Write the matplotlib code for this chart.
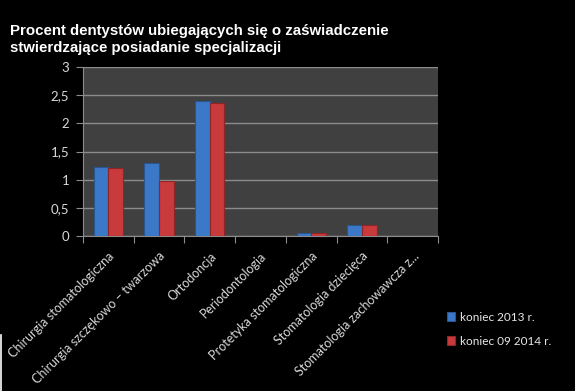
import matplotlib.pyplot as plt
import matplotlib.ticker as ticker
import numpy as np

# ========== Data ==========
categories = [
    'Chirurgia stomatologiczna',
    'Chirurgia szczękowo – twarzowa',
    'Ortodoncja',
    'Periodontologia',
    'Protetyka stomatologiczna',
    'Stomatologia dziecięca',
    'Stomatologia zachowawcza z...',
]
series_names = ['koniec 2013 r.', 'koniec 09 2014 r.']
values_2013 = [1.22, 1.29, 2.39, 0.0, 0.06, 0.20, 0.0]
values_2014 = [1.20, 0.97, 2.36, 0.0, 0.06, 0.20, 0.0]
yticks = [0, 0.5, 1, 1.5, 2, 2.5, 3]
ytick_labels = ['0', '0,5', '1', '1,5', '2', '2,5', '3']

title = ('Procent dentystów ubiegających się o zaświadczenie\n'
         'stwierdzające posiadanie specjalizacji')

# ========== Style ==========
W, H = 575, 391
fig = plt.figure(figsize=(W / 100, H / 100), dpi=100, facecolor='black')
ax = fig.add_axes([83 / W, 1 - 236 / H, 355 / W, 169 / H])
ax.set_facecolor('#404040')

x = np.arange(len(categories))
bw = 0.29
blue, red = '#3c78c8', '#c83a3c'
ax.bar(x - bw / 2, values_2013, bw, color=blue, edgecolor='#2a5690',
       linewidth=0.8, label=series_names[0], zorder=3)
ax.bar(x + bw / 2, values_2014, bw, color=red, edgecolor='#8e2628',
       linewidth=0.8, label=series_names[1], zorder=3)

ax.set_xlim(-0.5, len(categories) - 0.5)
ax.set_ylim(0, 3)
ax.yaxis.set_major_locator(ticker.FixedLocator(yticks))
ax.set_yticklabels(ytick_labels, fontsize=9.5, color='#d8d8d8', family='Lato')
ax.grid(axis='y', color='#8c8c8c', linewidth=1, zorder=0)
ax.set_axisbelow(True)

ax.set_xticks(np.arange(len(categories) + 1) - 0.5, minor=False)
ax.set_xticklabels([])
ax.set_xticks(x, minor=True)
ax.set_xticklabels(categories, minor=True, rotation=45, ha='right',
                   rotation_mode='anchor', fontsize=9, color='#d8d8d8',
                   family='Lato')
ax.tick_params(axis='x', which='minor', length=0, pad=10)
ax.tick_params(axis='x', which='major', length=5, color='#8c8c8c')
ax.tick_params(axis='y', length=5, color='#8c8c8c', pad=5)

for side in ['top', 'right']:
    ax.spines[side].set_visible(False)
for side in ['left', 'bottom']:
    ax.spines[side].set_color('#8c8c8c')

fig.text(10 / W, 1 - 24 / H, title, ha='left', va='top', color='white',
         fontsize=10.8, fontweight='bold', family='Liberation Sans',
         linespacing=1.25)

leg = fig.legend(loc='upper left', bbox_to_anchor=(436 / W, 1 - 301 / H),
                 frameon=False, labelcolor='#e8e8e8',
                 prop={'family': 'Lato', 'size': 8.5},
                 handlelength=0.7, handleheight=0.7, handletextpad=0.4,
                 labelspacing=1.1)

fig.add_artist(plt.Line2D([1 / W, 1 / W], [0, 1 - 335 / H], color='white',
                          linewidth=1.2, transform=fig.transFigure))

fig.savefig('out.png', dpi=100, facecolor='black')
